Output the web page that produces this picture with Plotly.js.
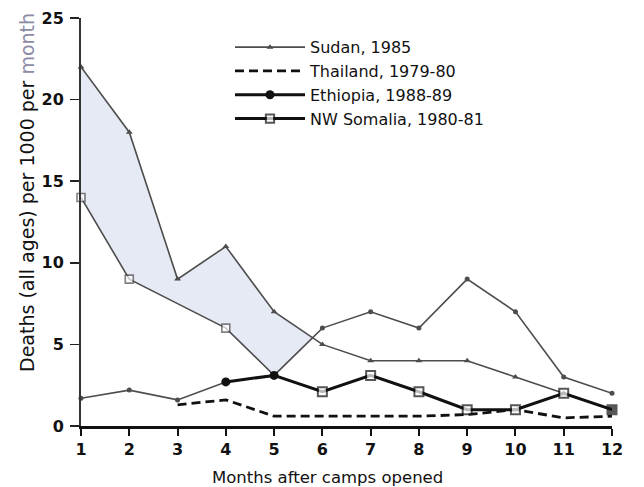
<!DOCTYPE html>
<html>
<head>
<meta charset="utf-8">
<script src="https://cdn.plot.ly/plotly-3.0.1.min.js"></script>
<style>html,body{margin:0;padding:0;background:#fff;}#chart{width:644px;height:487px;}</style>
</head>
<body>
<div id="chart"></div>
<script>
// ---- data ----
const months = [1, 2, 3, 4, 5, 6, 7, 8, 9, 10, 11, 12];
const sudan    = [22, 18, 9, 11, 7, 5, 4, 4, 4, 3, 2, null];
const thailand = [10, null, 1.3, 1.6, 0.6, 0.6, 0.6, 0.6, 0.7, 1.0, 0.5, 0.6];
const ethiopia = [1.7, 2.2, 1.6, 2.7, 3.1, 6, 7, 6, 9, 7, 3, 2];
const somalia  = [14, 9, 7.5, 6, 3.1, 2.1, 3.1, 2.1, 1.0, 1.0, 2.0, 1.0];
const seriesNames = ['Sudan, 1985', 'Thailand, 1979-80', 'Ethiopia, 1988-89', 'NW Somalia, 1980-81'];
const yTicks = [0, 5, 10, 15, 20, 25];
const xTitle = 'Months after camps opened';
const yTitle = 'Deaths (all ages) per 1000 per <span style="color:#8c8ca6">month</span>';

// ---- shaded band between Sudan and the next curve below, up to their first crossing ----
const lineB = months.map((m, i) => Math.max(somalia[i], ethiopia[i]));
const ux = [], uy = [], lx = [], ly = [];
for (let i = 0; i < months.length; i++) {
  const d = sudan[i] - lineB[i];
  if (d > 0) { ux.push(months[i]); uy.push(sudan[i]); lx.push(months[i]); ly.push(lineB[i]); }
  else {
    const d0 = sudan[i - 1] - lineB[i - 1];
    const t = d0 / (d0 - d);
    ux.push(months[i - 1] + t * (months[i] - months[i - 1]));
    uy.push(sudan[i - 1] + t * (sudan[i] - sudan[i - 1]));
    break;
  }
}
const bandX = ux.concat(lx.slice().reverse());
const bandY = uy.concat(ly.slice().reverse());

const thin = '#4d4d4d';
const ethiopiaBold = ethiopia.map((v, i) => (i >= 3 && i <= 4) ? v : null);
const somaliaBold  = somalia.map((v, i) => (i >= 4) ? v : null);

const traces = [
  {x: bandX, y: bandY, mode: 'lines', fill: 'toself', fillcolor: '#e6eaf4',
   line: {width: 0}, hoverinfo: 'skip', showlegend: false},
  {x: months, y: somalia, mode: 'lines+markers', showlegend: false, cliponaxis: false,
   line: {color: thin, width: 1.6},
   marker: {symbol: 'square', color: '#fff', line: {color: thin, width: 1.6},
            size: somalia.map((v, i) => (i < 4 && i !== 2) ? 8 : 0)}},
  {x: months, y: ethiopia, mode: 'lines+markers', showlegend: false, cliponaxis: false,
   line: {color: thin, width: 1.6},
   marker: {symbol: 'circle', color: thin, size: 5}},
  {x: months, y: sudan, name: seriesNames[0], mode: 'lines+markers', cliponaxis: false,
   line: {color: thin, width: 1.6},
   marker: {symbol: 'triangle-up', color: thin, size: 6}},
  {x: months, y: thailand, name: seriesNames[1], mode: 'lines', cliponaxis: false,
   line: {color: '#111', width: 2.8, dash: '9px,5px'}},
  {x: months, y: ethiopiaBold, name: seriesNames[2], mode: 'lines+markers', cliponaxis: false,
   line: {color: '#111', width: 3}, marker: {symbol: 'circle', color: '#111', size: 9}},
  {x: months, y: somaliaBold, name: seriesNames[3], mode: 'lines+markers', cliponaxis: false,
   line: {color: '#111', width: 3},
   marker: {symbol: 'square', size: somaliaBold.map((v, i) => i === 4 ? 0 : 9),
            color: somaliaBold.map((v, i) => i === months.length - 1 ? '#111' : '#fff'),
            line: {color: '#111', width: 2}}}
];

const tickFont = {family: 'DejaVu Sans', size: 16, color: '#111', weight: 'bold'};
const layout = {
  width: 644, height: 487,
  margin: {l: 81, r: 32, t: 18, b: 61, pad: 0},
  paper_bgcolor: '#fff', plot_bgcolor: '#fff',
  showlegend: true,
  legend: {x: (230 - 81) / 531, y: 0.97, xanchor: 'left', yanchor: 'top',
           font: {family: 'DejaVu Sans', size: 16, color: '#111'},
           bgcolor: 'rgba(0,0,0,0)', itemwidth: 70, tracegroupgap: 0},
  xaxis: {range: [1, 12], tickvals: months, ticktext: months.map(String),
          ticks: 'outside', ticklen: 7, tickwidth: 2, tickcolor: '#111',
          showline: true, linewidth: 3, linecolor: '#111', showgrid: false, zeroline: false,
          tickfont: tickFont, ticklabelstandoff: 0},
  yaxis: {range: [0, 25], tickvals: yTicks, ticktext: yTicks.map(String),
          ticks: 'outside', ticklen: 9, tickwidth: 1.5, tickcolor: '#222',
          showline: true, linewidth: 2, linecolor: '#333', showgrid: false, zeroline: false,
          tickfont: tickFont, ticklabelstandoff: 3},
  annotations: [
    {text: xTitle, xref: 'paper', yref: 'paper', x: (327 - 81) / 531, y: (426 - 477) / 408,
     xanchor: 'center', yanchor: 'middle', showarrow: false,
     font: {family: 'DejaVu Sans', size: 16.5, color: '#111'}},
    {text: yTitle, xref: 'paper', yref: 'paper', x: (27 - 81) / 531, y: (426 - 193) / 408,
     xanchor: 'center', yanchor: 'middle', showarrow: false, textangle: -90,
     font: {family: 'DejaVu Sans', size: 19, color: '#111'}}
  ]
};

Plotly.newPlot('chart', traces, layout, {staticPlot: true, displayModeBar: false});
</script>
</body>
</html>
